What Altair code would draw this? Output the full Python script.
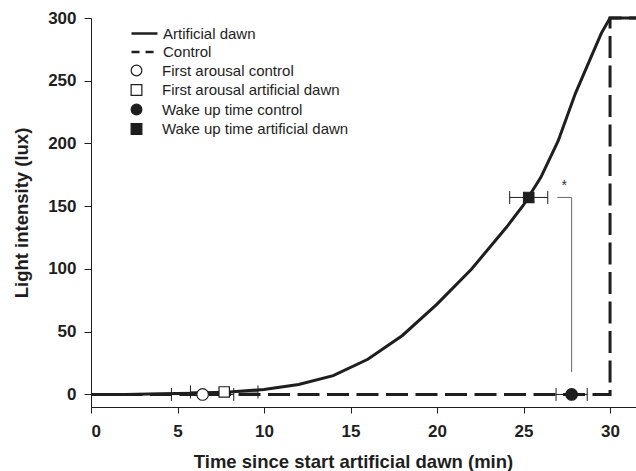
import altair as alt
import pandas as pd

# ---- data ----
line_names = ["Artificial dawn", "Control"]

dawn_time = [0, 2, 4, 6, 8, 10, 12, 14, 16, 18, 20, 22, 24, 25, 26, 27, 28, 29, 29.5, 30, 31.5]
dawn_lux = [0, 0, 0.5, 1, 2, 4, 8, 15, 28, 47, 72, 100, 133, 151, 173, 202, 240, 272, 288, 300, 300]

ctrl_time = [0, 30, 30, 31.5]
ctrl_lux = [0, 0, 300, 300]

marker_labels = [
    "First arousal control",
    "First arousal artificial dawn",
    "Wake up time control",
    "Wake up time artificial dawn",
]
marker_time = [6.45, 7.7, 27.78, 25.3]
marker_lux = [0, 2, 0, 157]
marker_se = [1.8, 1.95, 0.9, 1.1]
marker_shapes = ["circle", "square", "circle", "square"]
marker_fills = ["white", "white", "#1e1e1e", "#1e1e1e"]

bracket_time = [26.95, 27.78, 27.78]
bracket_lux = [157, 157, 18]
star_time = [27.35]
star_lux = [163]

x_ticks = [0, 5, 10, 15, 20, 25, 30]
y_ticks = [0, 50, 100, 150, 200, 250, 300]

INK = "#1e1e1e"
FONT = "Liberation Sans"

# ---- tables ----
line_df = pd.DataFrame({
    "time": dawn_time + ctrl_time,
    "lux": dawn_lux + ctrl_lux,
    "series": [line_names[0]] * len(dawn_time) + [line_names[1]] * len(ctrl_time),
    "idx": list(range(len(dawn_time))) + list(range(len(ctrl_time))),
})

marker_df = pd.DataFrame({
    "label": marker_labels,
    "time": marker_time,
    "lux": marker_lux,
    "se": marker_se,
})
marker_df["lo"] = marker_df["time"] - marker_df["se"]
marker_df["hi"] = marker_df["time"] + marker_df["se"]

bracket_df = pd.DataFrame({"time": bracket_time, "lux": bracket_lux, "idx": range(len(bracket_time))})
star_df = pd.DataFrame({"time": star_time, "lux": star_lux})

x_scale = alt.Scale(domain=[0, 31.5], nice=False, zero=False)
y_scale = alt.Scale(domain=[-10, 300], nice=False, zero=False)

x_enc = alt.X("time:Q", scale=x_scale,
              axis=alt.Axis(values=x_ticks, title="Time since start artificial dawn (min)",
                            tickSize=6, labelPadding=10, titlePadding=13, titleX=262,
                            titleAlign="center", titleAnchor="start"))
y_enc = alt.Y("lux:Q", scale=y_scale,
              axis=alt.Axis(values=y_ticks, title="Light intensity (lux)",
                            tickSize=7, labelPadding=8, titlePadding=16))

base_lines = alt.Chart(line_df)

dawn_line = base_lines.transform_filter(alt.datum.series == line_names[0]).mark_line(
    strokeWidth=3, color=INK, strokeCap="butt"
).encode(x=x_enc, y=y_enc, order="idx:Q")

ctrl_line = base_lines.transform_filter(alt.datum.series == line_names[1]).mark_line(
    strokeWidth=3, color=INK, strokeCap="butt", strokeDash=[22, 7.5]
).encode(x="time:Q", y="lux:Q", order="idx:Q")

# one point per series: draws nothing, only carries the line legend
line_legend_layer = base_lines.transform_filter(alt.datum.idx == 0).mark_line(
    strokeWidth=2.5, color=INK, strokeCap="butt"
).encode(
    x="time:Q", y="lux:Q",
    strokeDash=alt.StrokeDash(
        "series:N", scale=alt.Scale(domain=line_names, range=[[1, 0], [8, 6]]),
        legend=alt.Legend(
            title=None, orient="none", legendX=46, legendY=8, padding=0,
            symbolType="M-2.36,0H2.36", symbolSize=121, symbolStrokeWidth=2.5,
            symbolStrokeColor=INK, symbolOpacity=1, labelFont=FONT, labelFontSize=15,
            labelColor=INK, labelOffset=11, rowPadding=2.5, labelLimit=400,
        ),
    ),
)

bracket = alt.Chart(bracket_df).mark_line(strokeWidth=1, color="#666666").encode(
    x="time:Q", y="lux:Q", order="idx:Q")

star = alt.Chart(star_df).mark_text(text="*", fontSize=14, font=FONT, color="#333333",
                                    baseline="alphabetic").encode(x="time:Q", y="lux:Q")

err_rule = alt.Chart(marker_df).mark_rule(strokeWidth=1, color=INK).encode(
    x="lo:Q", x2="hi:Q", y="lux:Q")
cap_lo = alt.Chart(marker_df).mark_point(shape="M0,-1V1", size=169, strokeWidth=1, color=INK,
                                         filled=False, opacity=1).encode(x="lo:Q", y="lux:Q")
cap_hi = alt.Chart(marker_df).mark_point(shape="M0,-1V1", size=169, strokeWidth=1, color=INK,
                                         filled=False, opacity=1).encode(x="hi:Q", y="lux:Q")


def marker_legend():
    return alt.Legend(
        title=None, orient="none", legendX=38, legendY=45, padding=0,
        symbolSize=115, symbolStrokeColor=INK, symbolStrokeWidth=1.2, symbolOpacity=1,
        labelFont=FONT, labelFontSize=15, labelColor=INK, labelOffset=18, rowPadding=2.5,
        labelLimit=400,
    )


shape_enc = alt.Shape("label:N", scale=alt.Scale(domain=marker_labels, range=marker_shapes),
                      legend=marker_legend())
fill_enc = alt.Fill("label:N", scale=alt.Scale(domain=marker_labels, range=marker_fills),
                    legend=marker_legend())
stroke_enc = alt.Stroke("label:N", scale=alt.Scale(domain=marker_labels, range=[INK] * 4),
                        legend=marker_legend())

circles = alt.Chart(marker_df).transform_filter("indexof(datum.label, 'control') >= 0").mark_point(
    filled=False, size=135, strokeWidth=1.2, opacity=1, fillOpacity=1
).encode(x="time:Q", y="lux:Q", shape=shape_enc, fill=fill_enc, stroke=stroke_enc)

squares = alt.Chart(marker_df).transform_filter("indexof(datum.label, 'control') < 0").mark_point(
    filled=False, size=108, strokeWidth=1.2, opacity=1, fillOpacity=1
).encode(x="time:Q", y="lux:Q", shape=shape_enc, fill=fill_enc, stroke=stroke_enc)

chart = alt.layer(
    dawn_line, ctrl_line, line_legend_layer, bracket, star, err_rule, cap_lo, cap_hi, circles, squares
).properties(
    width=545, height=389,
    autosize=alt.AutoSizeParams(type="none"),
    padding={"left": 91, "top": 18, "right": 0, "bottom": 64},
).configure_view(stroke=None).configure_axis(
    grid=False, domainColor=INK, domainWidth=1, tickColor=INK, tickWidth=1,
    labelFont=FONT, labelFontSize=17, labelFontWeight="bold", labelColor=INK,
    titleFont=FONT, titleFontSize=18.5, titleFontWeight="bold", titleColor=INK,
)

chart.save("out.html", embed_options={"renderer": "svg", "actions": False})
